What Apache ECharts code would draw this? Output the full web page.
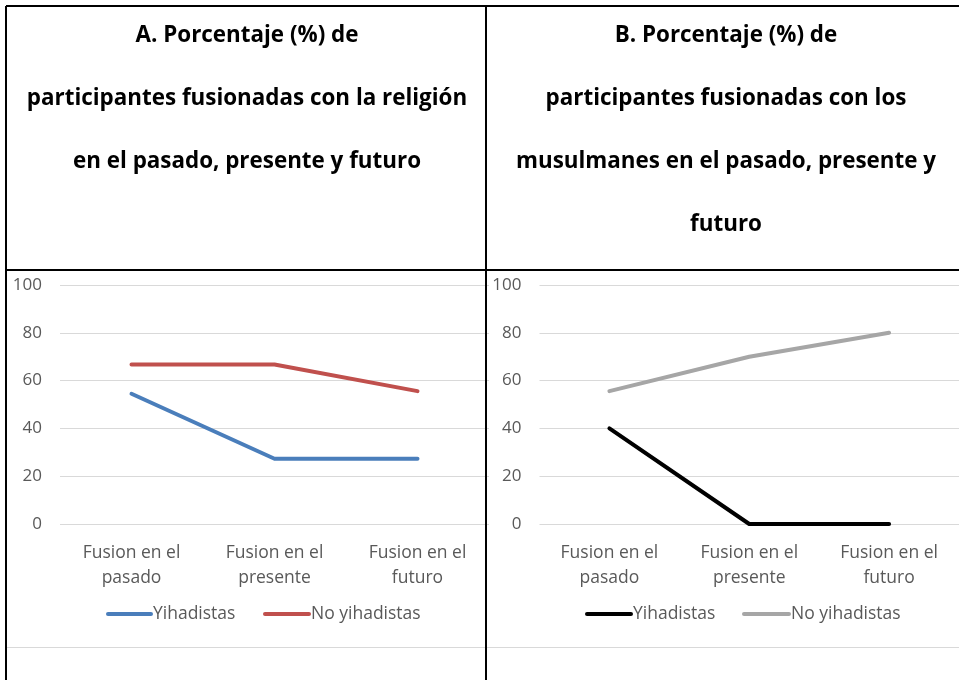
<!DOCTYPE html>
<html><head><meta charset="utf-8">
<script src="https://cdn.jsdelivr.net/npm/echarts@6/dist/echarts.min.js"></script>
<style>html,body{margin:0;padding:0;background:#fff}#c{width:959px;height:680px}</style>
</head><body><div id="c"></div>
<script>
const categories = ['Fusion en el\npasado', 'Fusion en el\npresente', 'Fusion en el\nfuturo'];
const yTicks = [0, 20, 40, 60, 80, 100];
const seriesNames = ['Yihadistas', 'No yihadistas'];
const aYihadistas = [54.5, 27.3, 27.3];
const aNoYihadistas = [66.7, 66.7, 55.6];
const bYihadistas = [40, 0, 0];
const bNoYihadistas = [55.6, 70, 80];
const titleA = 'A. Porcentaje (%) de\nparticipantes fusionadas con la religión\nen el pasado, presente y futuro';
const titleB = 'B. Porcentaje (%) de\nparticipantes fusionadas con los\nmusulmanes en el pasado, presente y\nfuturo';

const FONT = 'Open Sans';
const chart = echarts.init(document.getElementById('c'), null, {renderer: 'canvas'});
const axisText = {color: '#595959', fontSize: 17.5, fontFamily: FONT};
function xAxis(i) {
  return {type: 'category', gridIndex: i, data: categories, boundaryGap: true,
    axisLine: {show: false}, axisTick: {show: false},
    axisLabel: Object.assign({margin: 17, lineHeight: 25, interval: 0}, axisText)};
}
function yAxis(i) {
  return {type: 'value', gridIndex: i, min: yTicks[0], max: yTicks[yTicks.length - 1], interval: 20,
    axisLine: {show: false}, axisTick: {show: false},
    axisLabel: Object.assign({margin: 18}, axisText, {fontSize: 17}),
    splitLine: {lineStyle: {color: '#d9d9d9', width: 1}}};
}
function line(name, data, i, color) {
  return {type: 'line', name: name, data: data, xAxisIndex: i, yAxisIndex: i,
    showSymbol: false, symbol: 'none', lineStyle: {width: 4, color: color, cap: 'round', join: 'round'},
    itemStyle: {color: color}, animation: false};
}
const border = {stroke: '#000', lineWidth: 2};
const legText = {fill: '#595959', fontSize: 17.5, fontFamily: FONT, verticalAlign: 'middle'};
chart.setOption({
  animation: false,
  textStyle: {fontFamily: FONT},
  title: [
    {text: titleA, left: 247, top: 4, padding: 0, textAlign: 'center',
      textStyle: {fontSize: 22.4, fontWeight: 'bold', color: '#000', lineHeight: 63, fontFamily: FONT}},
    {text: titleB, left: 726, top: 4, padding: 0, textAlign: 'center',
      textStyle: {fontSize: 22.4, fontWeight: 'bold', color: '#000', lineHeight: 63, fontFamily: FONT}}
  ],
  grid: [
    {left: 60, top: 285, width: 429, height: 239},
    {left: 539.5, top: 285, width: 429, height: 239}
  ],
  xAxis: [xAxis(0), xAxis(1)],
  yAxis: [yAxis(0), yAxis(1)],
  series: [
    line(seriesNames[0], aYihadistas, 0, '#4a7ebb'),
    line(seriesNames[1], aNoYihadistas, 0, '#c0504d'),
    line(seriesNames[0], bYihadistas, 1, '#000000'),
    line(seriesNames[1], bNoYihadistas, 1, '#a6a6a6')
  ],
  graphic: [
    {type: 'line', shape: {x1: 6, y1: 6, x2: 959, y2: 6}, style: border, z: 100},
    {type: 'line', shape: {x1: 6, y1: 6, x2: 6, y2: 680}, style: border, z: 100},
    {type: 'line', shape: {x1: 486, y1: 6, x2: 486, y2: 680}, style: border, z: 100},
    {type: 'line', shape: {x1: 6, y1: 270, x2: 959, y2: 270}, style: border, z: 100},
    {type: 'line', shape: {x1: 7, y1: 647.5, x2: 959, y2: 647.5}, style: {stroke: '#d9d9d9', lineWidth: 1}, z: 1},
    {type: 'line', shape: {x1: 108, y1: 614, x2: 151, y2: 614}, style: {stroke: '#4a7ebb', lineWidth: 4, lineCap: 'round'}},
    {type: 'text', x: 153, y: 614, style: Object.assign({text: seriesNames[0]}, legText)},
    {type: 'line', shape: {x1: 265, y1: 614, x2: 309, y2: 614}, style: {stroke: '#c0504d', lineWidth: 4, lineCap: 'round'}},
    {type: 'text', x: 311, y: 614, style: Object.assign({text: seriesNames[1]}, legText)},
    {type: 'line', shape: {x1: 587, y1: 614, x2: 631, y2: 614}, style: {stroke: '#000', lineWidth: 4, lineCap: 'round'}},
    {type: 'text', x: 633, y: 614, style: Object.assign({text: seriesNames[0]}, legText)},
    {type: 'line', shape: {x1: 744, y1: 614, x2: 789, y2: 614}, style: {stroke: '#a6a6a6', lineWidth: 4, lineCap: 'round'}},
    {type: 'text', x: 791, y: 614, style: Object.assign({text: seriesNames[1]}, legText)}
  ]
});
</script></body></html>
